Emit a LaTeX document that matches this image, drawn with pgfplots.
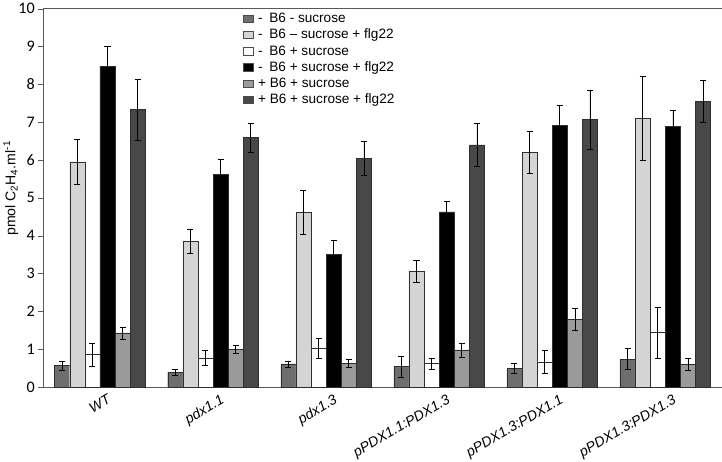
\documentclass[border=0pt]{standalone}
\usepackage{pgfplots}
\pgfplotsset{compat=1.18}
\usepackage{pgfplotstable}
\usepackage{fontspec}
\setmainfont{Liberation Sans}
\newfontfamily\calibri{Carlito}
\definecolor{cA}{HTML}{6E6E6E}
\definecolor{cB}{HTML}{D4D4D4}
\definecolor{cC}{HTML}{FFFFFF}
\definecolor{cD}{HTML}{000000}
\definecolor{cE}{HTML}{9A9A9A}
\definecolor{cF}{HTML}{484848}
\definecolor{edge}{HTML}{2E2E2E}

% x y err
\pgfplotstableread{
x y e
0 0.57 0.12
1 0.39 0.07
2 0.61 0.08
3 0.54 0.27
4 0.49 0.13
5 0.74 0.28
}\tA
\pgfplotstableread{
x y e
0 5.95 0.60
1 3.85 0.32
2 4.62 0.57
3 3.06 0.29
4 6.21 0.56
5 7.10 1.10
}\tB
\pgfplotstableread{
x y e
0 0.86 0.31
1 0.77 0.20
2 1.03 0.26
3 0.62 0.15
4 0.67 0.30
5 1.44 0.68
}\tC
\pgfplotstableread{
x y e
0 8.48 0.53
1 5.62 0.41
2 3.51 0.36
3 4.63 0.27
4 6.92 0.53
5 6.89 0.42
}\tD
\pgfplotstableread{
x y e
0 1.43 0.16
1 1.00 0.10
2 0.63 0.10
3 0.98 0.19
4 1.79 0.30
5 0.60 0.16
}\tE
\pgfplotstableread{
x y e
0 7.33 0.80
1 6.59 0.39
2 6.04 0.45
3 6.40 0.57
4 7.07 0.78
5 7.55 0.55
}\tF

\begin{document}
\begin{tikzpicture}
\begin{axis}[
  scale only axis,
  width=674pt, height=376pt,
  xmin=-0.5, xmax=5.5,
  ymin=0, ymax=10,
  ybar=0pt, bar width=15pt,
  axis line style={draw=black!65},
  xtick={0,1,2,3,4,5},
  xticklabels={WT,pdx1.1,pdx1.3,pPDX1.1:PDX1.3,pPDX1.3:PDX1.1,pPDX1.3:PDX1.3},
  x tick style={draw=none},
  x tick label style={font=\fontsize{14}{14}\selectfont\itshape, rotate=30, anchor=north east, inner sep=1pt, xshift=6pt, yshift=-4pt},
  ytick={0,1,...,10},
  ytick pos=left,
  y tick style={draw=black!65},
  tick align=outside,
  major tick length=5pt,
  y tick label style={font=\calibri\fontsize{16}{16}\selectfont},
  /pgf/number format/assume math mode=true,
  ylabel={pmol C\textsubscript{2}H\textsubscript{4}.ml\textsuperscript{-1}},
  ylabel style={font=\fontsize{14}{14}\selectfont, at={(axis description cs:-0.048,0.525)}, anchor=center},
  legend style={draw=none, fill=none, at={(axis description cs:0.294,0.99)}, anchor=north west,
    font=\fontsize{13.5}{13.5}\selectfont, row sep=4pt, inner sep=0pt, nodes={inner xsep=5pt, inner ysep=0.5pt}},
  legend cell align=left,
  legend image code/.code={\draw[#1,draw=black!70] (0pt,-3.8pt) rectangle (9.5pt,3.6pt);},
  error bars/y dir=both, error bars/y explicit,
  error bars/error mark options={rotate=90, mark size=3pt, line width=0.6pt, draw=black},
  error bars/error bar style={line width=0.6pt, draw=black},
]
\addplot[fill=cA, draw=edge] table[x=x,y=y,y error=e]{\tA};
\addplot[fill=cB, draw=edge] table[x=x,y=y,y error=e]{\tB};
\addplot[fill=cC, draw=edge] table[x=x,y=y,y error=e]{\tC};
\addplot[fill=cD, draw=edge] table[x=x,y=y,y error=e]{\tD};
\addplot[fill=cE, draw=edge] table[x=x,y=y,y error=e]{\tE};
\addplot[fill=cF, draw=edge] table[x=x,y=y,y error=e]{\tF};
\legend{{-\enspace B6 - sucrose},{-\enspace B6 -- sucrose + flg22},{-\enspace B6 + sucrose},{-\enspace B6 + sucrose + flg22},{+ B6 + sucrose},{+ B6 + sucrose + flg22}}
\end{axis}
\end{tikzpicture}
\end{document}
